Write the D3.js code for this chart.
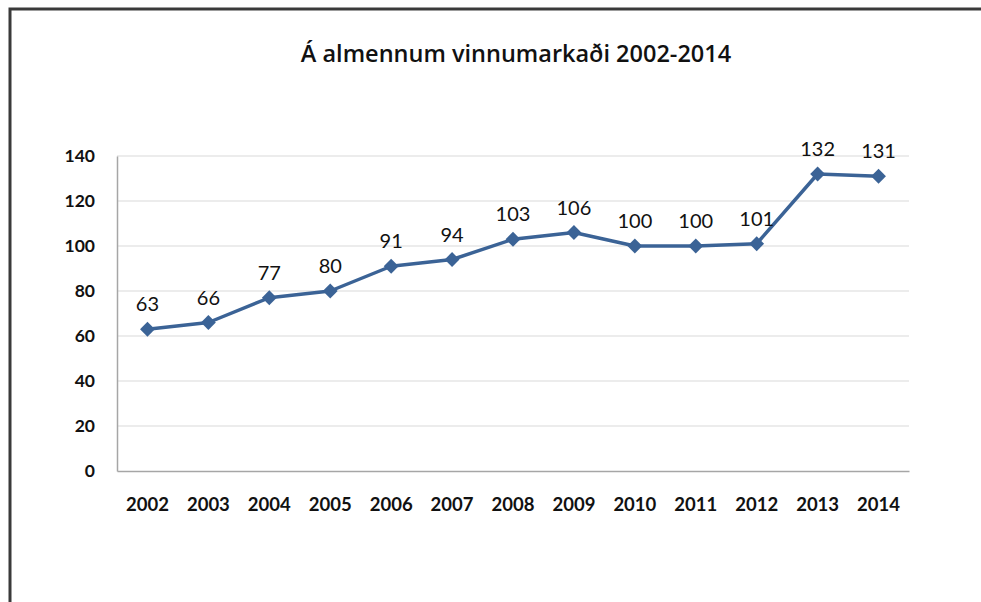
<!DOCTYPE html>
<html>
<head>
<meta charset="utf-8">
<script src="https://cdn.jsdelivr.net/npm/d3@7"></script>
<style>
  html, body { margin: 0; padding: 0; background: #fff; }
  svg { display: block; }
</style>
</head>
<body>
<svg id="chart" width="981" height="602"></svg>
<script>
// Series: index values per year
const years = ["2002","2003","2004","2005","2006","2007","2008","2009","2010","2011","2012","2013","2014"];
const values = [63, 66, 77, 80, 91, 94, 103, 106, 100, 100, 101, 132, 131];
const yTicks = [0, 20, 40, 60, 80, 100, 120, 140];
const title = "Á almennum vinnumarkaði 2002-2014";

const svg = d3.select("#chart");
const W = 981, H = 602;
const plot = { left: 117, right: 909, top: 156, bottom: 471 };

// Outer chart frame
svg.append("rect")
  .attr("x", 10).attr("y", 9)
  .attr("width", W + 20).attr("height", H + 20)
  .attr("fill", "#fff")
  .attr("stroke", "#3a3a3a")
  .attr("stroke-width", 3);

svg.append("text")
  .attr("x", 516).attr("y", 62)
  .attr("text-anchor", "middle")
  .attr("font-family", "'Open Sans', sans-serif")
  .attr("font-weight", 600)
  .attr("font-size", 23.5)
  .attr("fill", "#111")
  .text(title);

const x = d3.scaleBand().domain(years).range([plot.left, plot.right]);
const y = d3.scaleLinear().domain([0, 140]).range([plot.bottom, plot.top]);

// Horizontal gridlines
svg.append("g")
  .selectAll("line")
  .data(yTicks.filter(d => d > 0))
  .join("line")
  .attr("x1", plot.left).attr("x2", plot.right)
  .attr("y1", d => y(d)).attr("y2", d => y(d))
  .attr("stroke", "#d9d9d9")
  .attr("stroke-width", 1);

// Y axis
const yAxis = svg.append("g")
  .attr("transform", `translate(${plot.left},0)`)
  .call(d3.axisLeft(y).tickValues(yTicks).tickSize(0).tickPadding(22));
yAxis.select(".domain").attr("stroke", "#a6a6a6").attr("stroke-width", 1.5);
yAxis.selectAll("text")
  .attr("font-family", "Lato, sans-serif")
  .attr("font-weight", 700)
  .attr("font-size", 17.5)
  .attr("fill", "#111");

// X axis
const xAxis = svg.append("g")
  .attr("transform", `translate(0,${plot.bottom})`)
  .call(d3.axisBottom(x).tickSize(0).tickPadding(27));
xAxis.select(".domain").attr("stroke", "#a6a6a6").attr("stroke-width", 1.5);
xAxis.selectAll("text")
  .attr("font-family", "Lato, sans-serif")
  .attr("font-weight", 700)
  .attr("font-size", 18.5)
  .attr("fill", "#111");

const cx = (d, i) => x(years[i]) + x.bandwidth() / 2;

// Line
const line = d3.line()
  .x((d, i) => cx(d, i))
  .y(d => y(d));
svg.append("path")
  .datum(values)
  .attr("d", line)
  .attr("fill", "none")
  .attr("stroke", "#3b6396")
  .attr("stroke-width", 3.5)
  .attr("stroke-linejoin", "round");

// Diamond markers
const diamond = d3.symbol().type(d3.symbolDiamond2).size(140);
svg.append("g")
  .selectAll("path")
  .data(values)
  .join("path")
  .attr("transform", (d, i) => `translate(${cx(d, i)},${y(d)})`)
  .attr("d", diamond)
  .attr("fill", "#3b6396");

// Value labels
svg.append("g")
  .selectAll("text")
  .data(values)
  .join("text")
  .attr("x", (d, i) => cx(d, i))
  .attr("y", d => y(d) - 18)
  .attr("text-anchor", "middle")
  .attr("font-family", "Lato, sans-serif")
  .attr("font-size", 20)
  .attr("fill", "#111")
  .text(d => d);
</script>
</body>
</html>
